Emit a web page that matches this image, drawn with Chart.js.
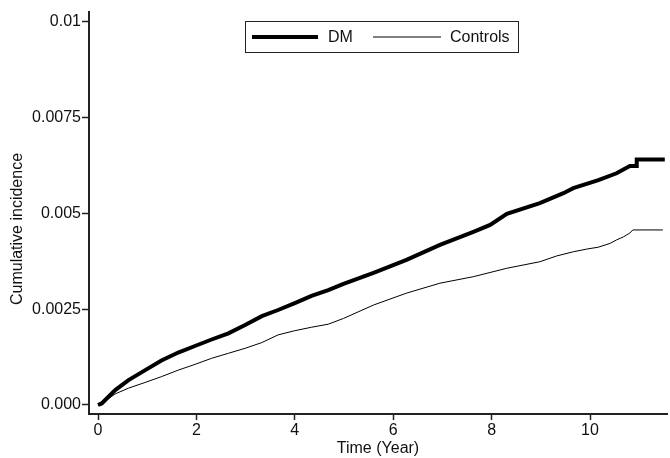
<!DOCTYPE html>
<html>
<head>
<meta charset="utf-8">
<script src="https://cdn.jsdelivr.net/npm/chart.js@4/dist/chart.umd.min.js"></script>
<style>
  html, body { margin: 0; padding: 0; background: #fff; }
  #wrap { width: 670px; height: 458px; position: relative; }
</style>
</head>
<body>
<div id="wrap"><canvas id="incidence-chart"></canvas></div>
<script>
/**************************************************************
                  CUMULATIVE INCIDENCE CURVES
***************************************************************/
let seriesNames = ["DM", "Controls"]

let dmTimes  = [0, 0.075, 0.35, 0.62, 0.96, 1.29, 1.63, 1.97, 2.31, 2.65, 2.99, 3.33, 3.66, 4.00, 4.34, 4.68, 4.99,
                5.60, 6.27, 6.95, 7.63, 7.97, 8.31, 8.98, 9.46, 9.66, 10.17, 10.54, 10.81, 10.95, 10.95, 11.52]
let dmValues = [0, 0.00004, 0.00039, 0.00065, 0.00091, 0.00116, 0.00137, 0.00154, 0.00171, 0.00187, 0.00209, 0.00232,
                0.00248, 0.00266, 0.00285, 0.00300, 0.00316, 0.00345, 0.00379, 0.00418, 0.00452, 0.00470, 0.00499,
                0.00527, 0.00553, 0.00566, 0.00587, 0.00605, 0.00624, 0.00624, 0.00641, 0.00641]

let controlTimes  = [0, 0.075, 0.35, 0.62, 0.96, 1.29, 1.63, 1.97, 2.31, 2.65, 2.99, 3.33, 3.66, 4.00, 4.34, 4.68, 4.99,
                     5.60, 6.27, 6.95, 7.63, 8.31, 8.98, 9.32, 9.66, 9.93, 10.17, 10.41, 10.54, 10.68, 10.81, 10.87, 11.48]
let controlValues = [0, 0.00004, 0.00029, 0.00044, 0.00059, 0.00074, 0.00091, 0.00106, 0.00122, 0.00135, 0.00148,
                     0.00163, 0.00183, 0.00194, 0.00203, 0.00211, 0.00226, 0.00261, 0.00292, 0.00318, 0.00335,
                     0.00357, 0.00374, 0.00389, 0.00400, 0.00407, 0.00412, 0.00422, 0.00431, 0.00439, 0.00449,
                     0.00457, 0.00457]

let xTickValues = [0, 2, 4, 6, 8, 10]
let yTickValues = [0, 0.0025, 0.005, 0.0075, 0.01]
let yTickLabels = ["0.000", "0.0025", "0.005", "0.0075", "0.01"]

let axisColor = '#222'
let fontFamily = '"Liberation Sans", Arial, Helvetica, sans-serif'

function toPoints(times, values) {
    return times.map((t, i) => ({ x: t, y: values[i] }))
}

/*** legend drawn as a framed box inside the plot area, plus the y title ***/
let framedLegend = {
    id: 'framedLegend',
    afterDraw(chart) {
        let ctx = chart.ctx
        let box = { x: 245.5, y: 21.5, w: 273, h: 31 }
        let midY = box.y + box.h / 2
        ctx.save()
        ctx.strokeStyle = axisColor
        ctx.lineWidth = 1
        ctx.strokeRect(box.x, box.y, box.w, box.h)
        let items = [
            { lineFrom: 252, lineTo: 318, textX: 328 },
            { lineFrom: 373, lineTo: 441, textX: 450 }
        ]
        ctx.font = '16px ' + fontFamily
        ctx.textBaseline = 'middle'
        ctx.textAlign = 'left'
        items.forEach((item, i) => {
            let ds = chart.data.datasets[i]
            ctx.strokeStyle = ds.borderColor
            ctx.lineWidth = ds.borderWidth
            ctx.beginPath()
            ctx.moveTo(item.lineFrom, midY)
            ctx.lineTo(item.lineTo, midY)
            ctx.stroke()
            ctx.fillStyle = '#111'
            ctx.fillText(ds.label, item.textX, midY + 1)
        })

        // y axis title, sits a bit below the middle of the axis
        ctx.translate(18, 229)
        ctx.rotate(-Math.PI / 2)
        ctx.textAlign = 'center'
        ctx.fillText('Cumulative incidence', 0, 0)
        ctx.restore()
    }
}

Chart.defaults.font.family = fontFamily
Chart.defaults.font.size = 16
Chart.defaults.color = '#111'

let incidenceChartCanvas = document.getElementById('incidence-chart').getContext('2d')
let incidenceChartConfig = {
    type: 'line',
    data: {
        datasets: [{
            label: seriesNames[0],
            data: toPoints(dmTimes, dmValues),
            borderColor: '#000',
            borderWidth: 4,
            pointRadius: 0,
            tension: 0,
            fill: false
        }, {
            label: seriesNames[1],
            data: toPoints(controlTimes, controlValues),
            borderColor: '#000',
            borderWidth: 1,
            pointRadius: 0,
            tension: 0,
            fill: false
        }]
    },
    options: {
        responsive: true,
        maintainAspectRatio: false,
        animation: false,
        layout: { padding: { top: 12, right: 3, left: 0, bottom: 0 } },
        plugins: {
            legend: { display: false },
            tooltip: { enabled: false }
        },
        scales: {
            x: {
                type: 'linear',
                min: -0.183,
                max: 11.565,
                afterBuildTicks: (scale) => { scale.ticks = xTickValues.map(v => ({ value: v })) },
                afterFit: (scale) => { scale.height = 44 },
                ticks: { padding: 1, color: '#111', font: { size: 16 } },
                grid: { drawOnChartArea: false, drawTicks: true, tickLength: 6, tickColor: axisColor, tickWidth: 1.5 },
                border: { display: true, color: axisColor, width: 2 },
                title: { display: true, text: 'Time (Year)', padding: { top: 0, bottom: 0 }, font: { size: 16, lineHeight: 1.2 } }
            },
            y: {
                type: 'linear',
                min: -0.000235,
                max: 0.01026,
                afterBuildTicks: (scale) => { scale.ticks = yTickValues.map(v => ({ value: v })) },
                afterFit: (scale) => { scale.width = 89 },
                ticks: {
                    padding: 1,
                    color: '#111',
                    font: { size: 16 },
                    callback: (value) => {
                        let idx = yTickValues.findIndex(v => Math.abs(v - value) < 1e-9)
                        return idx >= 0 ? yTickLabels[idx] : ''
                    }
                },
                grid: { drawOnChartArea: false, drawTicks: true, tickLength: 7, tickColor: axisColor, tickWidth: 1.5 },
                border: { display: true, color: axisColor, width: 2 },
                title: { display: false }
            }
        }
    },
    plugins: [framedLegend]
}

let incidenceChart = new Chart(incidenceChartCanvas, incidenceChartConfig)
</script>
</body>
</html>
